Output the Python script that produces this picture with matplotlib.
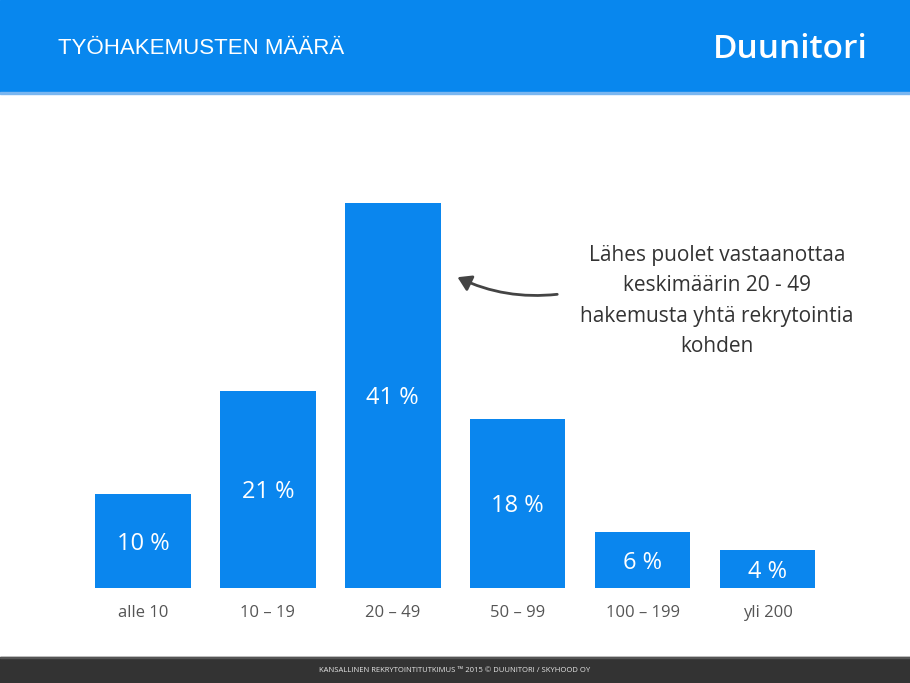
import matplotlib.pyplot as plt
from matplotlib.patches import Rectangle, FancyArrowPatch

luokat = ["alle 10", "10 – 19", "20 – 49", "50 – 99", "100 – 199", "yli 200"]
osuudet = [10, 21, 41, 18, 6, 4]

SININEN = "#0a86ee"
W, H = 910, 683

fig = plt.figure(figsize=(W / 100, H / 100), dpi=100)
fig.patch.set_facecolor("white")

# header ja footer
fig.patches.append(Rectangle((0, 1 - 92 / H), 1, 92 / H, transform=fig.transFigure,
                             color="#0887ee", zorder=0))
fig.patches.append(Rectangle((0, 1 - 93.5 / H), 1, 1.5 / H, transform=fig.transFigure,
                             color="#7ab6f0", zorder=0))
fig.patches.append(Rectangle((0, 0), 1, 26 / H, transform=fig.transFigure,
                             color="#333333", zorder=0))
fig.patches.append(Rectangle((0, 25 / H), 1, 1.5 / H, transform=fig.transFigure,
                             color="#555555", zorder=0))

fig.text(58 / W, 1 - 48 / H, "TYÖHAKEMUSTEN MÄÄRÄ", color="white", fontsize=16,
         family=["Liberation Sans", "DejaVu Sans"], va="center", ha="left")
fig.text(868 / W, 1 - 50 / H, "Duunitori", color="white", fontsize=24,
         family=["Open Sans", "DejaVu Sans"], weight="semibold", va="center", ha="right")
fig.text(0.5, 13 / H, "KANSALLINEN REKRYTOINTITUTKIMUS ™ 2015 © DUUNITORI / SKYHOOD OY",
         color="#e6e6e6", fontsize=5.5, family=["Open Sans", "DejaVu Sans"],
         va="center", ha="center")

# pylväät
ax = fig.add_axes([80.5 / W, (H - 588) / H, 749.5 / W, 423 / H])
x = list(range(len(osuudet)))
ax.bar(x, osuudet, width=0.765, color=SININEN)
ax.set_xlim(-0.5, len(osuudet) - 0.5)
ax.set_ylim(0, 45)
for xi, v in zip(x, osuudet):
    ax.text(xi, v / 2, f"{v} %", color="white", fontsize=17, ha="center",
            va="center_baseline", family=["Open Sans", "DejaVu Sans"])
ax.set_xticks(x)
ax.set_xticklabels(luokat, fontsize=12, color="#555555", family=["Open Sans", "DejaVu Sans"])
ax.tick_params(axis="x", length=0, pad=12)
ax.set_yticks([])
for s in ax.spines.values():
    s.set_visible(False)
ax.patch.set_alpha(0)

# huomautus
fig.text(717 / W, 1 - 301 / H,
         "Lähes puolet vastaanottaa\nkeskimäärin 20 - 49\nhakemusta yhtä rekrytointia\nkohden",
         color="#333333", fontsize=15, ha="center", va="center", linespacing=1.6,
         family=["Open Sans", "DejaVu Sans"])
nuoli = FancyArrowPatch((560 / W, 1 - 294 / H), (455 / W, 1 - 276 / H),
                        transform=fig.transFigure, connectionstyle="arc3,rad=-0.15",
                        arrowstyle="-|>,head_length=8,head_width=5", color="#444444",
                        lw=2.0)
fig.patches.append(nuoli)

fig.savefig("out.png", dpi=100)
